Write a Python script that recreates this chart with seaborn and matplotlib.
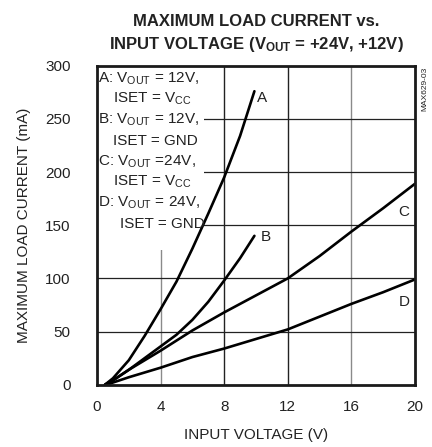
import matplotlib
matplotlib.use("Agg")
import matplotlib.pyplot as plt
import seaborn as sns
import pandas as pd
from matplotlib.patches import Rectangle

# ---- data ----
a_v = [0.5, 1, 2, 3, 4, 5, 6, 7, 8, 9, 9.9]
a_i = [0, 6, 23, 46, 71, 97, 128, 161, 195, 234, 276]
b_v = [0.5, 1, 2, 3, 4, 5, 6, 7, 8, 9, 9.9]
b_i = [0, 4, 14, 25, 36, 47, 61, 78, 98, 119, 140]
c_v = [0.5, 1, 2, 4, 6, 8, 10, 12, 14, 16, 18, 20]
c_i = [0, 4, 14, 32, 51, 68, 84, 100, 121, 144, 166, 189]
d_v = [0.6, 2, 4, 6, 8, 10, 12, 14, 16, 18, 20]
d_i = [0, 7, 16, 26, 34, 43, 52, 64, 76, 87, 99]
curve_names = ["A", "B", "C", "D"]
label_pos = {"A": (10.4, 270), "B": (10.6, 139), "C": (19.3, 162), "D": (19.3, 78)}
x_ticks = [0, 4, 8, 12, 16, 20]
y_ticks = [0, 50, 100, 150, 200, 250, 300]

legend_lines = [
    (0.06, r"A: V$_{\mathregular{OUT}}$ = 12V,"),
    (1.0, r"ISET = V$_{\mathregular{CC}}$"),
    (0.06, r"B: V$_{\mathregular{OUT}}$ = 12V,"),
    (1.0, r"ISET = GND"),
    (0.06, r"C: V$_{\mathregular{OUT}}$ =24V,"),
    (1.0, r"ISET = V$_{\mathregular{CC}}$"),
    (0.06, r"D: V$_{\mathregular{OUT}}$ = 24V,"),
    (1.45, r"ISET = GND"),
]

frames = []
for name, vs, cs in zip(curve_names, [a_v, b_v, c_v, d_v], [a_i, b_i, c_i, d_i]):
    frames.append(pd.DataFrame({"V": vs, "I": cs, "curve": name}))
df = pd.concat(frames, ignore_index=True)

sns.set_theme(style="white")
FONT = ["Liberation Sans", "DejaVu Sans"]
plt.rcParams["font.family"] = FONT
plt.rcParams["mathtext.fontset"] = "custom"
plt.rcParams["mathtext.rm"] = "Liberation Sans"
plt.rcParams["mathtext.bf"] = "Liberation Sans:bold"
plt.rcParams["mathtext.default"] = "regular"

TXT = "#222222"
FS = 11

fig = plt.figure(figsize=(4.32, 4.47), dpi=100)
ax = fig.add_axes([97 / 432, 1 - 384.7 / 447, (415 - 97) / 432, (384.7 - 65.7) / 447])

# grid
for xv in [4, 8, 12, 16]:
    col = "#8a8a8a" if xv in (4, 16) else "#222222"
    ax.axvline(xv, color=col, lw=1.0, zorder=1)
for yv in [50, 100, 150, 200, 250]:
    ax.axhline(yv, color="#222222", lw=0.9, zorder=1)

# white legend box masking grid
ax.add_patch(Rectangle((0, 127), 6.7, 175, facecolor="white", edgecolor="none", zorder=2))

sns.lineplot(data=df, x="V", y="I", units="curve", estimator=None, color="black",
             lw=1.9, ax=ax, zorder=3, sort=False)

for name, (lx, ly) in label_pos.items():
    ax.text(lx, ly, name, fontsize=FS, ha="center", va="center", color=TXT, zorder=4)

y0 = 288.0
for k, (lx, line) in enumerate(legend_lines):
    ax.text(lx, y0 - k * 19.5, line, fontsize=FS, ha="left", va="center", color=TXT, zorder=4)

ax.set_xlim(0, 20)
ax.set_ylim(0, 300)
ax.set_xticks(x_ticks)
ax.set_yticks(y_ticks)
ax.tick_params(axis="both", length=0, labelsize=FS, colors=TXT)
ax.tick_params(axis="y", pad=19)
ax.tick_params(axis="x", pad=11)
for s in ax.spines.values():
    s.set_color("#1a1a1a")
    s.set_linewidth(2.0)
    s.set_zorder(5)

ax.set_xlabel("INPUT VOLTAGE (V)", fontsize=FS, color=TXT)
ax.set_ylabel("MAXIMUM LOAD CURRENT (mA)", fontsize=FS, color=TXT)
ax.xaxis.set_label_coords(0.5, (384.7 - 428) / 319)
ax.yaxis.set_label_coords((31 - 97) / 318, 0.5)

fig.text(256 / 432, 1 - 21 / 447, "MAXIMUM LOAD CURRENT vs.", ha="center", va="center",
         fontsize=12, fontweight="bold", color=TXT)
fig.text(256 / 432, 1 - 45 / 447,
         r"INPUT VOLTAGE (V$_{\mathbf{OUT}}$ = +24V, +12V)", ha="center", va="center",
         fontsize=12, fontweight="bold", color=TXT)
fig.text(425 / 432, 1 - 89 / 447, "MAX629-03", rotation=90, ha="center", va="center",
         fontsize=6, color=TXT)

fig.savefig("out.png", dpi=100)
